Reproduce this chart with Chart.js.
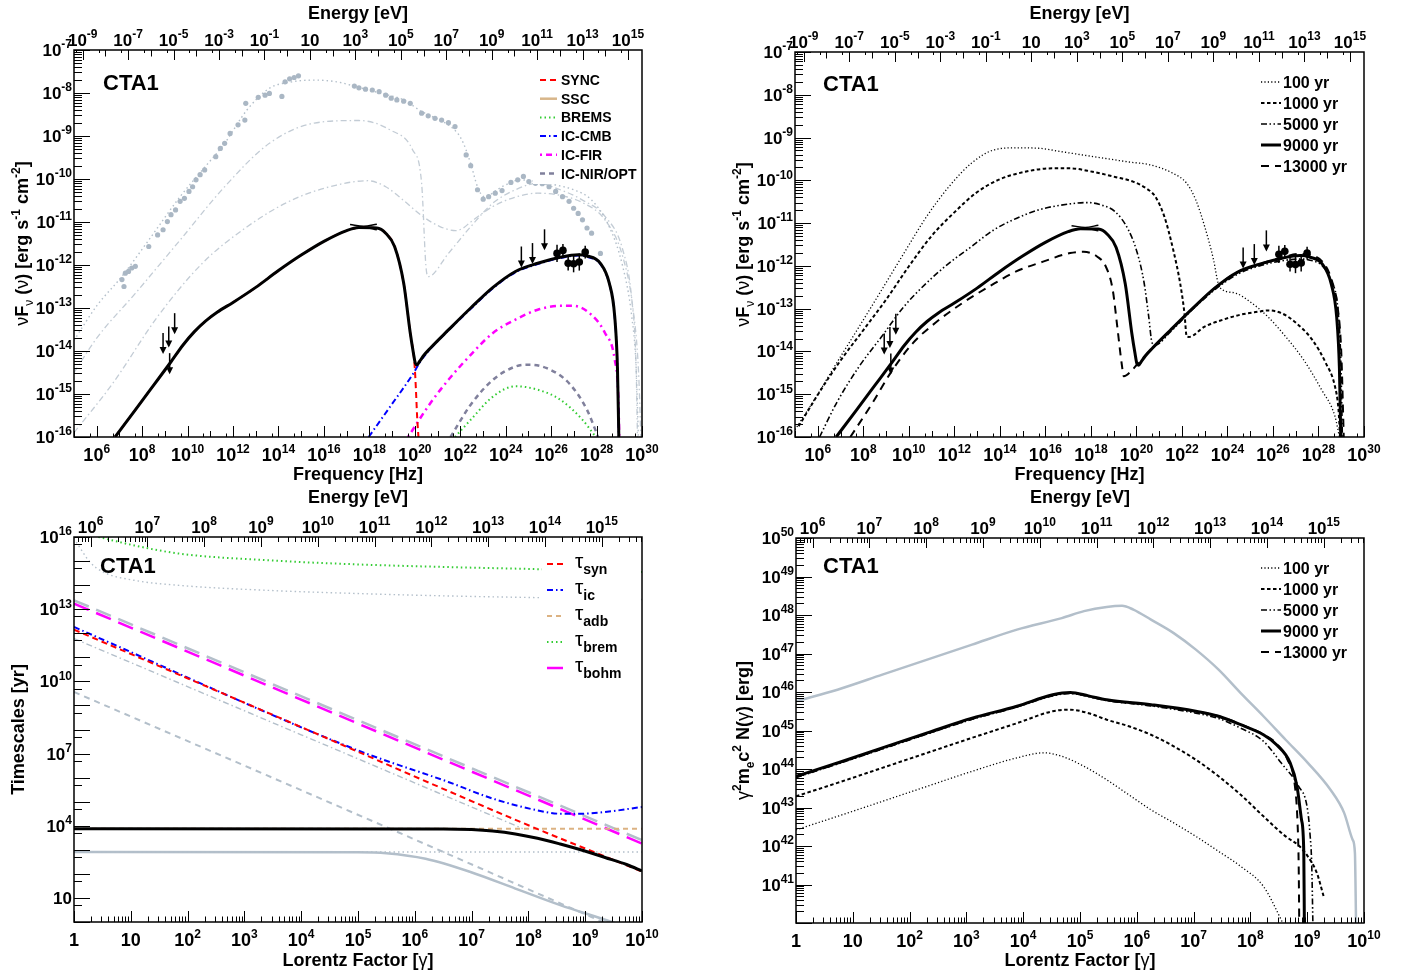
<!DOCTYPE html>
<html>
<head>
<meta charset="utf-8">
<script src="https://cdn.jsdelivr.net/npm/chart.js@4.4.0/dist/chart.umd.min.js"></script>
<style>
  body { margin: 0; background: #fff; width: 1406px; height: 972px; position: relative; overflow: hidden; }
  canvas { position: absolute; }
</style>
</head>
<body>
<canvas id="sedComp" width="703" height="486" style="left:0;top:0"></canvas>
<canvas id="sedAge" width="703" height="486" style="left:703px;top:0"></canvas>
<canvas id="timeScales" width="703" height="486" style="left:0;top:486px"></canvas>
<canvas id="spectrum" width="703" height="486" style="left:703px;top:486px"></canvas>
<script>
// all series are [log10 x, log10 y] pairs

// --- SED components, 9000 yr (top left) ---
var sed9000 = [[6.81,-16],[7.7,-15.37],[8.5,-14.8],[9.27,-14.25],[9.8,-13.86],[10.3,-13.55],[10.8,-13.3],[11.3,-13.1],[12,-12.87],[13,-12.52],[14,-12.13],[15,-11.77],[16,-11.45],[17,-11.2],[17.54,-11.13],[18.33,-11.14],[18.72,-11.26],[19.11,-11.57],[19.51,-12.42],[19.8,-13.58],[19.94,-14.05],[20.02,-14.28],[20.1,-14.32],[20.2,-14.25],[20.4,-14.1],[20.69,-13.93],[21.48,-13.51],[22.46,-13.0],[23.44,-12.52],[24.43,-12.15],[25.41,-11.96],[26.4,-11.82],[27.19,-11.76],[27.58,-11.79],[28.17,-11.96],[28.56,-12.42],[28.8,-13.2],[28.92,-14.4],[28.98,-16]];
var sync = [[6.81,-16],[7.7,-15.37],[8.5,-14.8],[9.27,-14.25],[9.8,-13.86],[10.3,-13.55],[10.8,-13.3],[11.3,-13.1],[12,-12.87],[13,-12.52],[14,-12.13],[15,-11.77],[16,-11.45],[17,-11.2],[17.54,-11.13],[18.33,-11.14],[18.72,-11.26],[19.11,-11.57],[19.51,-12.42],[19.8,-13.58],[19.94,-14.05],[20.0,-14.4],[20.05,-14.9],[20.1,-15.5],[20.16,-16]];
var icCmb = [[17.97,-16],[18.92,-15.29],[19.9,-14.55],[20.3,-14.2],[20.69,-13.95],[21.48,-13.52],[22.46,-13.02],[23.44,-12.54],[24.43,-12.17],[25.41,-11.98],[26.4,-11.84],[27.19,-11.78],[27.58,-11.81],[28.17,-11.98],[28.56,-12.44],[28.8,-13.22],[28.92,-14.42],[28.98,-16]];
var icFir = [[19.7,-16],[20.69,-15.21],[21.48,-14.67],[22.46,-14.09],[23.44,-13.58],[24.43,-13.27],[25.41,-13.04],[26.4,-12.95],[26.99,-12.95],[27.78,-13.16],[28.37,-13.58],[28.8,-14.2],[28.96,-15.1],[29.0,-16]];
var icNir = [[21.57,-16],[22.46,-15.25],[23.44,-14.67],[24.43,-14.36],[25.0,-14.32],[25.81,-14.4],[26.79,-14.75],[27.58,-15.37],[28.07,-16]];
var brems = [[21.77,-16],[22.46,-15.6],[23.44,-15.06],[24.43,-14.82],[25.41,-14.9],[26.4,-15.13],[27.38,-15.6],[27.97,-16]];
var ssc = [];
// grey reference models and data
var refDotted = [[5,-13.75],[6,-12.95],[7.1,-12.27],[8.29,-11.42],[9.67,-10.41],[10.65,-9.79],[11.63,-9.17],[12.62,-8.39],[13.6,-7.89],[14.59,-7.74],[15.57,-7.7],[16.56,-7.74],[17.54,-7.87],[18.52,-8.01],[19.51,-8.16],[20.3,-8.43],[21.08,-8.63],[21.67,-8.82],[22.07,-9.09],[22.46,-9.64],[22.76,-10.18],[23.05,-10.41],[23.84,-10.18],[24.63,-10.02],[25.41,-10.06],[26.2,-10.14],[26.99,-10.25],[27.78,-10.49],[28.56,-11.11],[29.15,-12.03],[29.55,-13.2],[29.74,-14.36],[29.84,-16]];
var refMid = [[5,-14.5],[6,-13.7],[7.7,-12.66],[9.67,-11.42],[11.63,-10.18],[13.6,-9.17],[15.57,-8.7],[17.54,-8.64],[18.92,-8.86],[19.9,-9.32],[20.3,-10.1],[20.49,-12.03],[20.59,-12.27],[21.48,-11.73],[22.46,-11.11],[23.44,-10.56],[24.43,-10.25],[25.41,-10.1],[26.4,-10.25],[27.38,-10.49],[28.37,-10.87],[29.15,-11.64],[29.55,-12.8],[29.74,-14.36],[29.8,-16]];
var refLow = [[5,-15.9],[6.71,-14.75],[8.68,-13.2],[10.65,-11.96],[12.62,-11.11],[14.59,-10.49],[16.56,-10.14],[17.93,-10.04],[18.72,-10.18],[19.51,-10.5],[20.3,-10.85],[21.08,-11.1],[21.8,-11.2],[22.1,-11.15],[22.46,-11.0],[23.44,-10.64],[24.43,-10.42],[25.41,-10.33],[26.4,-10.38],[27.38,-10.55],[28.37,-10.95],[29.15,-11.8],[29.6,-13.0],[29.85,-14.5],[29.95,-16]];
var refPoints = [[7.11,-12.34],[7.2,-12.5],[7.26,-12.19],[7.4,-12.15],[7.54,-12.07],[7.7,-12.03],[8.29,-11.57],[8.68,-11.3],[8.92,-11.18],[9.11,-10.99],[9.27,-10.83],[9.47,-10.72],[9.67,-10.52],[9.86,-10.45],[10.06,-10.29],[10.22,-10.18],[10.37,-10.02],[10.55,-9.9],[10.75,-9.79],[11.24,-9.48],[11.44,-9.29],[11.63,-9.17],[11.87,-8.94],[12.22,-8.74],[12.52,-8.63],[12.56,-8.24],[13.11,-8.1],[13.41,-8.05],[13.6,-8.01],[14.15,-8.08],[14.29,-7.74],[14.49,-7.67],[14.69,-7.64],[14.88,-7.6],[17.34,-7.84],[17.54,-7.88],[17.83,-7.91],[18.13,-7.93],[18.43,-7.97],[18.72,-8.05],[18.96,-8.12],[19.21,-8.16],[19.51,-8.19],[19.8,-8.24],[20.3,-8.47],[20.59,-8.53],[20.89,-8.59],[21.18,-8.63],[21.48,-8.69],[21.77,-8.78],[22.26,-9.44],[22.46,-9.69],[22.76,-10.25],[23.01,-10.47],[23.25,-10.41],[23.54,-10.33],[23.84,-10.27],[24.23,-10.08],[24.53,-10.02],[24.78,-9.94],[25.02,-10.06],[25.31,-10.1],[25.61,-10.11],[25.91,-10.18],[26.2,-10.29],[26.5,-10.41],[26.79,-10.52],[26.99,-10.68],[27.19,-10.8],[27.38,-10.95],[27.58,-11.14],[27.78,-11.26],[28.17,-11.73]];
// CTA1 measurements
var upperLimits = [[8.92,-13.58],[9.17,-13.43],[9.43,-13.12],[9.21,-14.05],[24.69,-11.57],[25.18,-11.49],[25.71,-11.17]];
var gammaPoints = [[26.26,-11.73],[26.52,-11.66],[26.75,-11.96],[26.99,-11.97],[27.24,-11.93],[27.5,-11.7]];
var gammaErr = [0.2, 0.15, 0.17, 0.2, 0.2, 0.15];
var xrayUpper = [[17.15,-11.06],[17.75,-11.1],[18.33,-11.05]];
var xrayLower = [[17.15,-11.17],[17.75,-11.12],[18.33,-11.18]];

// --- SED at different ages (top right) ---
var sed100 = [[5,-15.83],[5.85,-15.13],[6.83,-14.27],[7.82,-13.42],[8.81,-12.56],[9.79,-11.7],[10.78,-10.85],[11.76,-10.15],[12.75,-9.6],[13.73,-9.29],[14.72,-9.24],[15.71,-9.25],[16.69,-9.33],[17.68,-9.41],[18.66,-9.49],[19.65,-9.57],[20.63,-9.64],[21.62,-9.84],[22.21,-10.07],[22.61,-10.46],[23.0,-11.08],[23.39,-11.86],[23.59,-12.4],[23.79,-12.56],[24.38,-12.64],[24.97,-12.83],[25.76,-13.18],[26.55,-13.65],[27.34,-14.19],[28.13,-14.89],[28.72,-15.51],[28.92,-16]];
var sed1000 = [[5.16,-15.75],[6.05,-14.97],[7.03,-14.19],[8.02,-13.49],[9.0,-12.79],[9.99,-12.02],[10.97,-11.32],[11.96,-10.77],[12.94,-10.3],[13.93,-9.99],[15.11,-9.8],[16.3,-9.72],[17.09,-9.72],[18.07,-9.8],[19.06,-9.92],[19.85,-10.03],[20.44,-10.19],[20.83,-10.38],[21.23,-10.85],[21.62,-11.63],[21.92,-12.4],[22.11,-13.1],[22.21,-13.65],[22.31,-13.66],[23.0,-13.42],[23.79,-13.26],[24.58,-13.14],[25.37,-13.07],[25.76,-13.04],[26.35,-13.1],[26.94,-13.3],[27.73,-13.73],[28.32,-14.27],[28.72,-14.81],[28.88,-15.36],[28.95,-16]];
var sed5000 = [[6.08,-16],[6.83,-15.2],[7.82,-14.35],[8.81,-13.65],[9.79,-12.95],[10.78,-12.4],[11.76,-11.94],[12.75,-11.55],[13.73,-11.16],[14.72,-10.89],[15.71,-10.69],[16.69,-10.58],[17.87,-10.52],[18.47,-10.58],[19.06,-10.73],[19.65,-11.16],[20.04,-11.7],[20.34,-12.4],[20.54,-13.18],[20.69,-13.8],[20.83,-13.85],[21.48,-13.55],[22.46,-13.02],[23.44,-12.56],[24.43,-12.2],[25.41,-12.0],[26.4,-11.88],[27.19,-11.84],[27.58,-11.86],[28.17,-12.0],[28.56,-12.35],[28.85,-13.0],[28.98,-14.2],[29.05,-16]];
var sed13000 = [[7.43,-16],[8.41,-15.2],[9.2,-14.5],[10.19,-13.8],[11.17,-13.33],[12.35,-12.87],[13.54,-12.48],[14.72,-12.13],[15.9,-11.9],[17.09,-11.7],[17.68,-11.67],[18.27,-11.78],[18.66,-12.02],[18.96,-12.56],[19.16,-13.42],[19.35,-14.27],[19.45,-14.58],[19.75,-14.47],[20.04,-14.3],[20.69,-13.93],[21.48,-13.51],[22.46,-13.0],[23.44,-12.52],[24.43,-12.15],[25.41,-11.96],[26.4,-11.8],[27.19,-11.72],[27.58,-11.74],[28.17,-11.9],[28.56,-12.3],[28.85,-13.0],[29.0,-14.0],[29.11,-16]];

// --- timescales (bottom left), log gamma vs log yr ---
var tauSyn = [[0,12.15],[4,8.1],[8,4.02],[10,2.1]];
var tauIc = [[0,12.26],[5,7.13],[6.59,5.82],[7.37,5.13],[8.16,4.64],[8.56,4.5],[8.95,4.5],[9.35,4.57],[10,4.78]];
var tauAdb = [[0,3.88],[10,3.88]];
var tauBrem = [[0.43,16],[1.06,15.65],[1.85,15.31],[3.43,15.03],[5,14.86],[6.59,14.75],[8.24,14.66],[10,14.55]];
var tauBohm = [[0,13.23],[10,3.26]];
var tauTotal = [[0,3.88],[6.5,3.87],[7,3.84],[7.37,3.78],[7.77,3.66],[8.16,3.48],[8.56,3.24],[8.95,2.98],[9.35,2.68],[9.74,2.38],[10,2.12]];
var refBohm = [[0,13.37],[10,3.4]];
var refBrem = [[0.04,15.79],[0.28,14.96],[0.51,14.55],[1.06,14.2],[1.85,13.99],[3.43,13.78],[5,13.65],[6.59,13.55],[8.16,13.48],[10,13.4]];
var refIc = [[0,11.78],[4,7.78],[7.9,3.88]];
var refSyn = [[0,9.56],[5.56,3.88],[9.6,-0.3]];
var refAdb = [[0,2.91],[10,2.91]];
var refTotal = [[0,2.91],[5,2.9],[5.5,2.86],[6.19,2.63],[6.98,2.08],[7.77,1.39],[8.56,0.7],[9.5,-0.03],[9.8,-0.3]];

// --- electron spectra (bottom right), log gamma vs log erg ---
var n100 = [[0,42.42],[0.73,42.77],[1.52,43.16],[2.31,43.55],[3.1,43.94],[3.89,44.29],[4.36,44.42],[4.68,44.33],[5.07,44.07],[5.47,43.72],[5.86,43.33],[6.25,42.94],[6.65,42.6],[7.04,42.25],[7.44,41.86],[7.83,41.47],[8.23,40.95],[8.54,40.09],[8.6,39.9]];
var n1000 = [[0,43.29],[0.73,43.64],[1.52,44.03],[2.31,44.42],[3.1,44.81],[3.89,45.19],[4.52,45.5],[4.83,45.54],[5.15,45.45],[5.47,45.28],[5.86,45.11],[6.25,44.89],[6.65,44.59],[7.04,44.24],[7.44,43.81],[7.83,43.33],[8.23,42.77],[8.62,42.25],[8.86,42.0],[9.01,41.73],[9.17,41.3],[9.29,40.69]];
var n5000 = [[0,43.78],[0.73,44.13],[1.52,44.52],[2.31,44.91],[3.1,45.29],[3.89,45.61],[4.52,45.9],[4.83,45.96],[5.15,45.88],[5.47,45.78],[6.25,45.64],[7.04,45.45],[7.44,45.31],[7.83,45.06],[8.23,44.72],[8.54,44.16],[8.85,43.55],[9.0,43.0],[9.05,42.3],[9.08,41.5],[9.1,40]];
var n9000 = [[0,43.81],[0.73,44.16],[1.52,44.55],[2.31,44.94],[3.1,45.32],[3.89,45.63],[4.52,45.93],[4.83,45.99],[5.15,45.9],[5.47,45.8],[6.25,45.67],[7.04,45.5],[7.44,45.37],[7.83,45.15],[8.23,44.89],[8.46,44.63],[8.7,44.16],[8.82,43.55],[8.9,42.68],[8.94,41.82],[8.95,40]];
var n13000 = [[0,43.79],[0.73,44.14],[1.52,44.53],[2.31,44.92],[3.1,45.3],[3.89,45.62],[4.52,45.92],[4.83,45.98],[5.15,45.89],[5.47,45.79],[6.25,45.66],[7.04,45.49],[7.44,45.37],[7.83,45.16],[8.23,44.9],[8.46,44.66],[8.65,44.25],[8.78,43.6],[8.83,42.6],[8.85,41.5],[8.86,40]];
var nRef = [[0,45.76],[0.73,46.06],[1.52,46.45],[2.31,46.84],[3.1,47.23],[3.89,47.62],[4.68,47.92],[5.07,48.1],[5.47,48.21],[5.74,48.24],[5.94,48.14],[6.25,47.88],[6.65,47.53],[7.04,47.1],[7.44,46.58],[7.83,45.97],[8.23,45.37],[8.62,44.76],[9.01,44.16],[9.41,43.46],[9.65,42.86],[9.8,42.16],[9.84,41.82],[9.86,40]];

var ageLabels = ['100 yr', '1000 yr', '5000 yr', '9000 yr', '13000 yr'];

var FONT = '"Liberation Sans", Arial, Helvetica, sans-serif';
var GREY = '#b3bfca';
var H_EV = 4.1357e-15, MEC2_EV = 5.11e5;

function pts(a) {
  return a.map(function (p) { return { x: Math.pow(10, p[0]), y: Math.pow(10, p[1]) }; });
}

// line styles
var S = {
  sync:  { borderColor: '#ff0000', borderWidth: 2, borderDash: [6, 4] },
  ssc:   { borderColor: '#d8b68a', borderWidth: 2.5, borderDash: [] },
  brems: { borderColor: '#33cc33', borderWidth: 2, borderDash: [1.5, 3] },
  icCmb: { borderColor: '#0000ff', borderWidth: 2, borderDash: [6, 3, 1.5, 3] },
  icFir: { borderColor: '#ff00ff', borderWidth: 2.5, borderDash: [2, 4, 6, 4] },
  icNir: { borderColor: '#80809c', borderWidth: 2.5, borderDash: [5, 4] },
  adb:   { borderColor: '#dcb282', borderWidth: 2, borderDash: [5, 4] },
  bohm:  { borderColor: '#ff00ff', borderWidth: 2.5, borderDash: [16, 8] },
  a100:  { borderColor: '#000', borderWidth: 1.3, borderDash: [1.2, 2.2] },
  a1000: { borderColor: '#000', borderWidth: 2, borderDash: [3.5, 2.5] },
  a5000: { borderColor: '#000', borderWidth: 1.6, borderDash: [6, 2.5, 1.5, 2.5, 1.5, 2.5] },
  a9000: { borderColor: '#000', borderWidth: 3, borderDash: [] },
  a13000:{ borderColor: '#000', borderWidth: 2, borderDash: [8, 6] },
  gDot:  { borderColor: GREY, borderWidth: 1.4, borderDash: [1.5, 3] },
  gDashDot: { borderColor: GREY, borderWidth: 1.4, borderDash: [6, 3, 1.5, 3] },
  gDash: { borderColor: GREY, borderWidth: 2, borderDash: [6, 5] },
  gLong: { borderColor: GREY, borderWidth: 2.5, borderDash: [16, 8] },
  gSolid:{ borderColor: GREY, borderWidth: 2.5, borderDash: [] },
  black: { borderColor: '#000', borderWidth: 3, borderDash: [] }
};
var ageStyles = [S.a100, S.a1000, S.a5000, S.a9000, S.a13000];

function line(data, style) {
  return {
    data: pts(data), showLine: true, pointRadius: 0, fill: false,
    borderColor: style.borderColor, borderWidth: style.borderWidth, borderDash: style.borderDash,
    cubicInterpolationMode: 'monotone'
  };
}

// ---------- rich text (superscripts / subscripts / greek) ----------
function segFont(kind, size) {
  var small = (kind === 'sup' || kind === 'sub' || kind === 'gsub');
  var px = small ? Math.round(size * 0.68) : size;
  var w = (kind === 'g' || kind === 'gsub') ? 'normal' : 'bold';
  return w + ' ' + px + 'px ' + FONT;
}
function segDy(kind, size) {
  if (kind === 'sup') return -size * 0.45;
  if (kind === 'sub' || kind === 'gsub') return size * 0.3;
  return 0;
}
function richWidth(ctx, segs, size) {
  var w = 0;
  segs.forEach(function (s) { ctx.font = segFont(s[1], size); w += ctx.measureText(s[0]).width; });
  return w;
}
function drawRich(ctx, segs, x, y, size, align) {
  var w = richWidth(ctx, segs, size);
  var cx = align === 'center' ? x - w / 2 : (align === 'right' ? x - w : x);
  ctx.textAlign = 'left';
  ctx.textBaseline = 'alphabetic';
  segs.forEach(function (s) {
    ctx.font = segFont(s[1], size);
    ctx.fillText(s[0], cx, y + segDy(s[1], size));
    cx += ctx.measureText(s[0]).width;
  });
}
function expLabel(d) {
  if (d === 0) return [['1', 'b']];
  if (d === 1) return [['10', 'b']];
  return [['10', 'b'], [String(d), 'sup']];
}

// ---------- ROOT-like axes ----------
function drawAxis(chart, ax) {
  var s = chart.scales[ax.scale], ca = chart.chartArea, ctx = chart.ctx;
  var lo = Math.min(s.min, s.max), hi = Math.max(s.min, s.max);
  ctx.strokeStyle = '#000'; ctx.lineWidth = 1; ctx.setLineDash([]); ctx.fillStyle = '#000';
  for (var d = ax.from; d <= ax.to; d++) {
    var labelled = ax.labels.indexOf(d) >= 0;
    var marks = [[1, labelled ? ax.big : ax.mid]].concat(ax.minors.map(function (m) { return [m, ax.small]; }));
    marks.forEach(function (mk) {
      var v = mk[0] * Math.pow(10, d);
      if (v < lo * 0.9999 || v > hi * 1.0001) return;
      var p = Math.round(s.getPixelForValue(v)) + 0.5;
      ctx.beginPath();
      if (ax.side === 'bottom') { ctx.moveTo(p, ca.bottom); ctx.lineTo(p, ca.bottom - mk[1]); }
      else if (ax.side === 'top') { ctx.moveTo(p, ca.top); ctx.lineTo(p, ca.top + mk[1]); }
      else { ctx.moveTo(ca.left, p); ctx.lineTo(ca.left + mk[1], p); }
      ctx.stroke();
    });
    if (labelled) {
      var p = s.getPixelForValue(Math.pow(10, d));
      if (ax.side === 'bottom') drawRich(ctx, expLabel(d), p, ca.bottom + ax.off, ax.size, 'center');
      else if (ax.side === 'top') drawRich(ctx, expLabel(d), p, ca.top - ax.off, ax.size, 'center');
      else drawRich(ctx, expLabel(d), ca.left - ax.off, p + 6, ax.size, 'right');
    }
  }
}

function range(a, b, step) { var r = []; for (var i = a; i <= b; i += step) r.push(i); return r; }
var MINORS = [2, 3, 4, 5, 6, 7, 8, 9];

function drawLegend(ctx, L) {
  ctx.fillStyle = '#fff';
  ctx.fillRect(L.box[0], L.box[1], L.box[2], L.box[3]);
  L.items.forEach(function (it, i) {
    var y = L.y0 + i * L.dy;
    ctx.strokeStyle = it.style.borderColor; ctx.lineWidth = it.style.borderWidth;
    ctx.setLineDash(it.style.borderDash || []);
    ctx.beginPath(); ctx.moveTo(L.x0, y); ctx.lineTo(L.x1, y); ctx.stroke();
    ctx.setLineDash([]);
    ctx.fillStyle = '#000';
    drawRich(ctx, it.text, L.tx, y + L.ty, L.size, 'left');
  });
}

function drawArrows(chart, list) {
  var ctx = chart.ctx, xs = chart.scales.x, ys = chart.scales.y;
  ctx.strokeStyle = '#000'; ctx.fillStyle = '#000'; ctx.lineWidth = 1.5; ctx.setLineDash([]);
  list.forEach(function (u) {
    var px = xs.getPixelForValue(Math.pow(10, u[0])), py = ys.getPixelForValue(Math.pow(10, u[1]));
    ctx.beginPath(); ctx.moveTo(px, py); ctx.lineTo(px, py + 19); ctx.stroke();
    ctx.beginPath(); ctx.moveTo(px - 3.5, py + 14); ctx.lineTo(px, py + 21); ctx.lineTo(px + 3.5, py + 14); ctx.closePath(); ctx.fill();
  });
}
function drawErrors(chart) {
  var ctx = chart.ctx, xs = chart.scales.x, ys = chart.scales.y;
  ctx.strokeStyle = '#000'; ctx.lineWidth = 1.5; ctx.setLineDash([]);
  gammaPoints.forEach(function (p, i) {
    var px = xs.getPixelForValue(Math.pow(10, p[0]));
    var a = ys.getPixelForValue(Math.pow(10, p[1] + gammaErr[i]));
    var b = ys.getPixelForValue(Math.pow(10, p[1] - gammaErr[i]));
    ctx.beginPath(); ctx.moveTo(px, a); ctx.lineTo(px, b); ctx.stroke();
  });
}

function decor(spec) {
  return {
    id: 'decor',
    afterDatasetsDraw: function (chart) {
      var ctx = chart.ctx, ca = chart.chartArea;
      ctx.save();
      if (spec.extra) spec.extra(chart);
      if (spec.legend) drawLegend(ctx, spec.legend);
      spec.axes.forEach(function (ax) { drawAxis(chart, ax); });
      ctx.strokeStyle = '#000'; ctx.lineWidth = 1.5; ctx.setLineDash([]);
      ctx.strokeRect(ca.left, ca.top, ca.right - ca.left, ca.bottom - ca.top);
      ctx.fillStyle = '#000';
      ctx.font = 'bold 22px ' + FONT; ctx.textAlign = 'left';
      ctx.fillText('CTA1', spec.tag[0], spec.tag[1]);
      var cx = (ca.left + ca.right) / 2;
      drawRich(ctx, [['Energy [eV]', 'b']], cx, spec.topTitleY, 18, 'center');
      drawRich(ctx, spec.xTitle, cx, spec.xTitleY, 18, 'center');
      ctx.save();
      ctx.translate(spec.yTitleX, (ca.top + ca.bottom) / 2);
      ctx.rotate(-Math.PI / 2);
      drawRich(ctx, spec.yTitle, 0, 0, 18, 'center');
      ctx.restore();
      ctx.restore();
    }
  };
}

function makeChart(id, pad, xr, yr, x2r, datasets, spec) {
  return new Chart(document.getElementById(id), {
    type: 'scatter',
    data: { datasets: datasets },
    options: {
      responsive: false, animation: false, events: [],
      layout: { padding: pad },
      plugins: { legend: { display: false }, tooltip: { enabled: false } },
      scales: {
        x: { type: 'logarithmic', min: xr[0], max: xr[1], display: false },
        y: { type: 'logarithmic', min: yr[0], max: yr[1], display: false },
        x2: { type: 'logarithmic', axis: 'x', position: 'top', min: x2r[0], max: x2r[1], display: false }
      }
    },
    plugins: [decor(spec)]
  });
}

var sedAxes = [
  { scale: 'x', side: 'bottom', from: 5, to: 30, minors: [5], labels: range(6, 30, 2), big: 11, mid: 6, small: 3.5, off: 24, size: 18 },
  { scale: 'x2', side: 'top', from: -10, to: 15, minors: [5], labels: range(-9, 15, 2), big: 10, mid: 6.5, small: 3, off: 4, size: 17 },
  { scale: 'y', side: 'left', from: -16, to: -7, minors: MINORS, labels: range(-16, -7, 1), big: 16, mid: 16, small: 8, off: 2, size: 17 }
];
var gammaX = [
  { scale: 'x', side: 'bottom', from: 0, to: 10, minors: MINORS, labels: range(0, 10, 1), big: 11, mid: 11, small: 5.5, off: 24, size: 18 },
  { scale: 'x2', side: 'top', from: 5, to: 15, minors: MINORS, labels: range(6, 15, 1), big: 10, mid: 10, small: 5, off: 4, size: 17 }
];
var sedYTitle = [['\u03bd', 'g'], ['F', 'b'], ['\u03bd', 'gsub'], [' (', 'b'], ['\u03bd', 'g'], [') [erg s', 'b'], ['-1', 'sup'], [' cm', 'b'], ['-2', 'sup'], [']', 'b']];
var ageLegendItems = ageLabels.map(function (t, i) { return { style: ageStyles[i], text: [[t, 'b']] }; });

// ---- top left ----
makeChart('sedComp', { left: 74, right: 61, top: 50, bottom: 49 }, [1e5, 1e30], [1e-16, 1e-7], [1e5 * H_EV, 1e30 * H_EV], [
  line(sed9000, S.black),
  line(sync, S.sync),
  line(icCmb, S.icCmb),
  line(icFir, S.icFir),
  line(icNir, S.icNir),
  line(brems, S.brems),
  line(ssc, S.ssc),
  line(xrayUpper, { borderColor: '#000', borderWidth: 1.5, borderDash: [] }),
  line(xrayLower, { borderColor: '#000', borderWidth: 1.5, borderDash: [] }),
  { data: pts(gammaPoints), pointRadius: 3.8, pointBackgroundColor: '#000', pointBorderWidth: 0 },
  { data: pts(refPoints), pointRadius: 2.6, pointBackgroundColor: '#aab7c4', pointBorderWidth: 0 },
  line(refDotted, S.gDot),
  line(refMid, { borderColor: '#c3ccd5', borderWidth: 1.3, borderDash: [6, 3, 1.5, 3] }),
  line(refLow, { borderColor: '#c3ccd5', borderWidth: 1.3, borderDash: [6, 3, 1.5, 3] })
], {
  axes: sedAxes, tag: [103, 90], topTitleY: 19, xTitleY: 480, yTitleX: 28,
  xTitle: [['Frequency [Hz]', 'b']], yTitle: sedYTitle,
  extra: function (c) { drawErrors(c); drawArrows(c, upperLimits); },
  legend: {
    box: [533, 68, 106, 116], x0: 540, x1: 557, tx: 561, ty: 5, y0: 80, dy: 18.7, size: 14,
    items: [
      { style: S.sync, text: [['SYNC', 'b']] },
      { style: S.ssc, text: [['SSC', 'b']] },
      { style: S.brems, text: [['BREMS', 'b']] },
      { style: S.icCmb, text: [['IC-CMB', 'b']] },
      { style: S.icFir, text: [['IC-FIR', 'b']] },
      { style: S.icNir, text: [['IC-NIR/OPT', 'b']] }
    ]
  }
});

// ---- top right ----
makeChart('sedAge', { left: 92, right: 42, top: 52, bottom: 49 }, [1e5, 1e30], [1e-16, 1e-7], [1e5 * H_EV, 1e30 * H_EV], [
  line(sed9000, S.a9000),
  line(sed13000, S.a13000),
  line(sed5000, S.a5000),
  line(sed1000, S.a1000),
  line(sed100, S.a100),
  line(xrayUpper, { borderColor: '#000', borderWidth: 1.5, borderDash: [] }),
  line(xrayLower, { borderColor: '#000', borderWidth: 1.5, borderDash: [] }),
  { data: pts(gammaPoints), pointRadius: 3.8, pointBackgroundColor: '#000', pointBorderWidth: 0 }
], {
  axes: sedAxes, tag: [120, 91], topTitleY: 19, xTitleY: 480, yTitleX: 46,
  xTitle: [['Frequency [Hz]', 'b']], yTitle: sedYTitle,
  extra: function (c) { drawErrors(c); drawArrows(c, upperLimits); },
  legend: { box: [552, 70, 104, 108], x0: 558, x1: 578, tx: 580, ty: 6, y0: 82, dy: 21, size: 16, items: ageLegendItems }
});

// ---- bottom left ----
makeChart('timeScales', { left: 74, right: 61, top: 51, bottom: 50 }, [1, 1e10], [1, 1e16], [MEC2_EV, 1e10 * MEC2_EV], [
  line(tauTotal, S.black),
  line(tauSyn, S.sync),
  line(tauIc, S.icCmb),
  line(tauAdb, S.adb),
  line(tauBrem, S.brems),
  line(tauBohm, S.bohm),
  line(refBohm, S.gLong),
  line(refIc, S.gDashDot),
  line(refSyn, S.gDash),
  line(refAdb, S.gDot),
  line(refBrem, S.gDot),
  line(refTotal, S.gSolid)
], {
  axes: gammaX.concat([{ scale: 'y', side: 'left', from: 0, to: 16, minors: [5], labels: [1, 4, 7, 10, 13, 16], big: 16, mid: 16, small: 8, off: 2, size: 17 }]),
  tag: [100, 87], topTitleY: 17, xTitleY: 480, yTitleX: 24,
  xTitle: [['Lorentz Factor [', 'b'], ['\u03b3', 'g'], [']', 'b']], yTitle: [['Timescales [yr]', 'b']],
  legend: {
    box: [542, 56, 99, 146], x0: 547, x1: 563, tx: 575, ty: 4, y0: 78, dy: 26, size: 21,
    items: [
      { style: S.sync, text: [['\u03c4', 'g'], ['syn', 'sub']] },
      { style: S.icCmb, text: [['\u03c4', 'g'], ['ic', 'sub']] },
      { style: S.adb, text: [['\u03c4', 'g'], ['adb', 'sub']] },
      { style: S.brems, text: [['\u03c4', 'g'], ['brem', 'sub']] },
      { style: S.bohm, text: [['\u03c4', 'g'], ['bohm', 'sub']] }
    ]
  }
});

// ---- bottom right ----
makeChart('spectrum', { left: 93, right: 42, top: 52, bottom: 49 }, [1, 1e10], [1e40, 1e50], [MEC2_EV, 1e10 * MEC2_EV], [
  line(n9000, S.a9000),
  line(n13000, S.a13000),
  line(n5000, S.a5000),
  line(n1000, S.a1000),
  line(n100, S.a100),
  line(nRef, S.gSolid)
], {
  axes: gammaX.concat([{ scale: 'y', side: 'left', from: 40, to: 50, minors: MINORS, labels: range(41, 50, 1), big: 16, mid: 16, small: 8, off: 2, size: 17 }]),
  tag: [120, 87], topTitleY: 17, xTitleY: 480, yTitleX: 46,
  xTitle: [['Lorentz Factor [', 'b'], ['\u03b3', 'g'], [']', 'b']],
  yTitle: [['\u03b3', 'g'], ['2', 'sup'], ['m', 'b'], ['e', 'sub'], ['c', 'b'], ['2', 'sup'], [' N(', 'b'], ['\u03b3', 'g'], [') [erg]', 'b']],
  legend: { box: [552, 70, 104, 108], x0: 558, x1: 578, tx: 580, ty: 6, y0: 82, dy: 21, size: 16, items: ageLegendItems }
});
</script>
</body>
</html>
